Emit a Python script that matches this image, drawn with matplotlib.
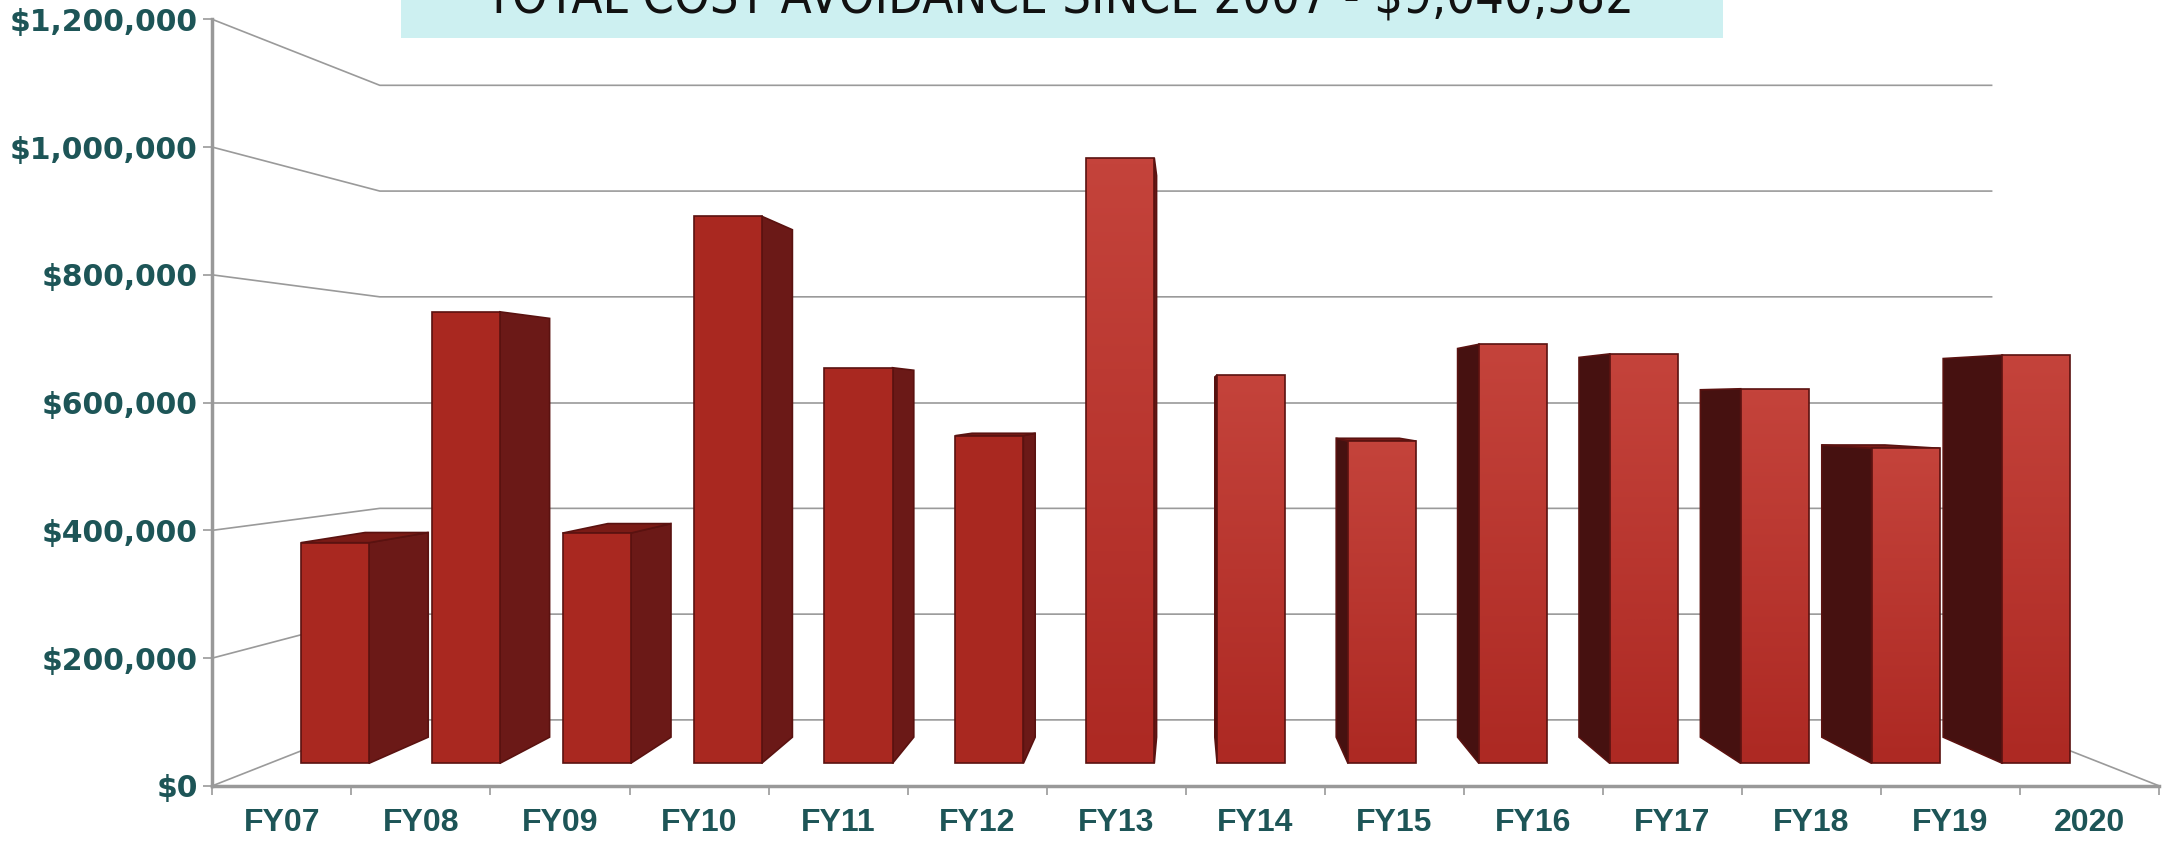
import matplotlib.pyplot as plt
import numpy as np
from matplotlib.patches import Polygon, Rectangle
from matplotlib.ticker import FuncFormatter, FixedLocator

# values
years = ['FY07', 'FY08', 'FY09', 'FY10', 'FY11', 'FY12', 'FY13',
         'FY14', 'FY15', 'FY16', 'FY17', 'FY18', 'FY19', '2020']
avoided = [367000, 751000, 383000, 910000, 658000, 545000, 1007000,
           646000, 536000, 697000, 681000, 623000, 524000, 679000]
y_ticks = [0, 200000, 400000, 600000, 800000, 1000000, 1200000]
title = 'TOTAL COST AVOIDANCE SINCE 2007 - $9,040,382'

TEAL = '#1d5557'
GRID = '#9a9a9a'
EDGE = '#5a1210'

n = len(years)
vx = n / 2              # vanishing point (category units)
vy = y_ticks[-1] / 2    # vanishing point (value units)
k = 1 / 0.828 - 1       # how much the back wall shrinks
bar_w = 0.52
d_front, d_back = 0.3, 0.7


def proj(x, v, d):
    # front plane is the axes itself, depth d in [0, 1] shrinks to the vanishing point
    t = 1 / (1 + k * d)
    return vx + t * (x - vx), vy + t * (v - vy)


fig = plt.figure(figsize=(21.77, 8.43), dpi=100)
ax = fig.add_axes([212.4 / 2177, 57.2 / 843, (2159 - 212.4) / 2177, (785.8 - 19.4) / 843])

# walls and floor
for v in y_ticks:
    pts = [proj(0, v, 0), proj(0, v, 1), proj(n, v, 1)]
    ax.plot(*zip(*pts), color=GRID, lw=1.2, zorder=1, solid_joinstyle='miter')
pts = [proj(n, 0, 1), proj(n, 0, 0)]
ax.plot(*zip(*pts), color=GRID, lw=1.2, zorder=1)

# bars, painted from the outside in
order = sorted(range(n), key=lambda i: -abs(i + 0.5 - vx))
cmap = plt.matplotlib.colors.LinearSegmentedColormap.from_list('f', ['#ad2923', '#c4433b'])
for z, i in enumerate(order):
    val = avoided[i]
    zb = 2 + z
    x0 = i + 0.5 - bar_w / 2
    x1 = x0 + bar_w
    left_side = i + 0.5 < vx
    xs = x1 if left_side else x0
    side = [proj(xs, 0, d_front), proj(xs, 0, d_back), proj(xs, val, d_back), proj(xs, val, d_front)]
    side_col = '#6b1917' if left_side else '#461110'
    ax.add_patch(Polygon(side, closed=True, fc=side_col, ec=EDGE, lw=1.2, zorder=zb))
    if val < vy:
        top = [proj(x0, val, d_front), proj(x1, val, d_front), proj(x1, val, d_back), proj(x0, val, d_back)]
        ax.add_patch(Polygon(top, closed=True, fc='#7a1b16', ec=EDGE, lw=1.2, zorder=zb + 0.05))
    front = [proj(x0, 0, d_front), proj(x1, 0, d_front), proj(x1, val, d_front), proj(x0, val, d_front)]
    if i < 6:
        ax.add_patch(Polygon(front, closed=True, fc='#a92820', ec=EDGE, lw=1.2, zorder=zb + 0.1))
    else:
        face = Polygon(front, closed=True, fc='#b3302a', ec='none', zorder=zb + 0.1)
        ax.add_patch(face)
        fx = [p[0] for p in front]
        fy = [p[1] for p in front]
        grad = np.linspace(0, 1, 64).reshape(-1, 1)
        im = ax.imshow(grad, extent=[min(fx), max(fx), min(fy), max(fy)], origin='lower',
                       cmap=cmap, aspect='auto', zorder=zb + 0.15, interpolation='bilinear')
        im.set_clip_path(face)
        ax.add_patch(Polygon(front, closed=True, fill=False, ec=EDGE, lw=1.2, zorder=zb + 0.2))

ax.set_xlim(0, n)
ax.set_ylim(0, y_ticks[-1])

# axes
for s in ['top', 'right']:
    ax.spines[s].set_visible(False)
for s in ['left', 'bottom']:
    ax.spines[s].set_color('#999999')
    ax.spines[s].set_linewidth(2.5)
    ax.spines[s].set_zorder(50)

ax.set_yticks(y_ticks)
ax.yaxis.set_major_formatter(FuncFormatter(lambda v, _: f'${v:,.0f}'))
ax.tick_params(axis='y', length=6.5, width=1.2, color='#999999', pad=4,
               labelsize=21.5, labelcolor=TEAL)
for lab in ax.get_yticklabels():
    lab.set_family('DejaVu Sans')
    lab.set_fontweight('bold')

ax.xaxis.set_major_locator(FixedLocator(range(n + 1)))
ax.xaxis.set_minor_locator(FixedLocator([i + 0.5 for i in range(n)]))
ax.set_xticklabels([''] * (n + 1))
ax.set_xticklabels(years, minor=True)
ax.tick_params(axis='x', which='major', length=6.5, width=1.2, color='#999999')
ax.tick_params(axis='x', which='minor', length=0, pad=16, labelsize=23, labelcolor=TEAL)
for lab in ax.get_xticklabels(minor=True):
    lab.set_family(['Liberation Sans Narrow', 'Liberation Sans'])
    lab.set_fontweight('bold')

# title banner, cut by the top edge
fig.patches.append(Rectangle((401 / 2177, 1 - 38 / 843), 1322 / 2177, 38 / 843,
                             transform=fig.transFigure, fc='#cdf0f1', ec='none', zorder=0))
tt = fig.text(1059 / 2177, 1 - 12 / 843, title, ha='center', va='baseline',
              fontsize=30, color='#111111', family='DejaVu Sans', fontstretch='condensed')
fig.canvas.draw()
w = tt.get_window_extent().width
tt.set_fontsize(30 * 1150 / w)

fig.savefig('out.png', dpi=100)
